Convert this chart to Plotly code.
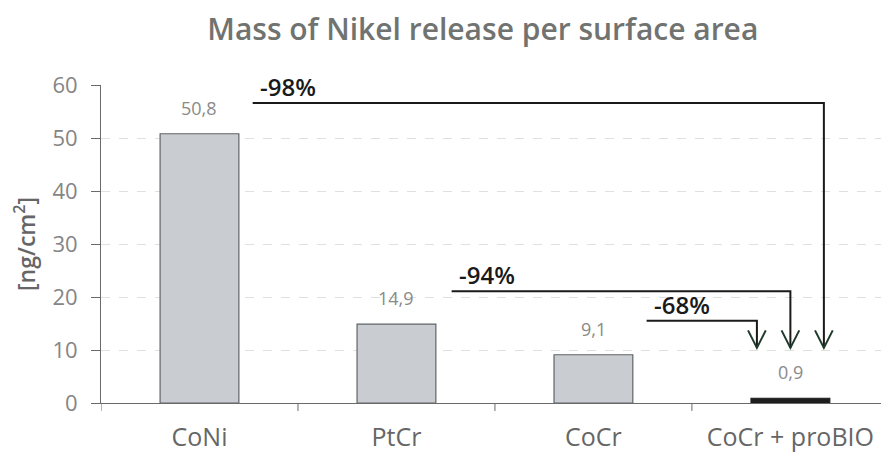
import plotly.graph_objects as go

# Nickel release per surface area for each alloy
categories = ["CoNi", "PtCr", "CoCr", "CoCr + proBIO"]
values = [50.8, 14.9, 9.1, 0.9]
value_labels = ["50,8", "14,9", "9,1", "0,9"]

# Reduction brackets: label, start x, bracket level, arrow x
reductions = [
    ("-98%", 0.27, 56.6, 3.17),
    ("-94%", 1.28, 21.1, 3.00),
    ("-68%", 2.27, 15.5, 2.83),
]
arrow_tip = 10.4

FONT = "Open Sans, sans-serif"
bar_fill = ["#c9ccd1", "#c9ccd1", "#c9ccd1", "#1e1e1e"]
bar_line = ["#5f6466", "#5f6466", "#5f6466", "#1e1e1e"]

fig = go.Figure()
fig.add_trace(go.Bar(
    x=list(range(len(categories))),
    y=values,
    width=0.4,
    marker=dict(color=bar_fill, line=dict(color=bar_line, width=1.2)),
    hoverinfo="skip",
))

shapes = []
annotations = []

# value labels above each bar
for i, (v, t) in enumerate(zip(values, value_labels)):
    annotations.append(dict(
        x=i, y=v, xref="x", yref="y", text=t, showarrow=False,
        xanchor="center", yanchor="middle", yshift=26,
        font=dict(family=FONT, size=18, color="#8a8a8a"),
    ))

for label, x0, level, x1 in reductions:
    # horizontal run then drop to the arrow tip
    shapes.append(dict(
        type="path", xref="x", yref="y",
        path=f"M {x0},{level} L {x1},{level} L {x1},{arrow_tip}",
        line=dict(color="#1a1a1a", width=2),
    ))
    # open arrowhead
    hw = 0.045
    hh = 3.3
    shapes.append(dict(
        type="path", xref="x", yref="y",
        path=f"M {x1-hw},{arrow_tip+hh} L {x1},{arrow_tip} L {x1+hw},{arrow_tip+hh}",
        line=dict(color="#1f3a2a", width=2),
    ))
    annotations.append(dict(
        x=x0 + 0.025, y=level, xref="x", yref="y",
        text=label, showarrow=False,
        xanchor="left", yanchor="bottom", yshift=-2,
        font=dict(family=FONT, size=24, weight=600, color="#1a1a1a"),
    ))

fig.update_layout(
    width=881, height=454,
    margin=dict(l=101, r=0, t=85, b=51),
    paper_bgcolor="white", plot_bgcolor="white",
    showlegend=False,
    title=dict(
        text="Mass of Nikel release per surface area",
        x=0.548, xanchor="center", y=0.934, yanchor="middle",
        font=dict(family=FONT, size=30, weight=600, color="#707370"),
    ),
    xaxis=dict(
        range=[-0.5, 3.46],
        tickmode="array",
        tickvals=list(range(len(categories))),
        ticktext=categories,
        showgrid=False,
        showline=True, linecolor="#6a6a6a", linewidth=1,
        ticks="", zeroline=False,
        automargin=False,
        ticklabelstandoff=12,
        tickfont=dict(family=FONT, size=25, color="#666666"),
    ),
    yaxis=dict(
        range=[0, 60],
        tickvals=[0, 10, 20, 30, 40, 50, 60],
        showgrid=True, gridcolor="#e0e0e0", griddash="dash", gridwidth=1,
        showline=True, linecolor="#6a6a6a", linewidth=1,
        ticks="outside", ticklen=9, tickcolor="#6a6a6a",
        zeroline=False,
        automargin=False,
        ticklabelstandoff=9,
        tickfont=dict(family=FONT, size=22, color="#858585"),
        title=dict(text="[ng/cm<sup>2</sup>]", standoff=10,
                   font=dict(family=FONT, size=23, weight=600, color="#666666")),
    ),
    shapes=shapes,
    annotations=annotations,
)

# category boundary ticks below the baseline
for b in [-0.5, 0.5, 1.5, 2.5]:
    fig.add_shape(type="line", xref="x", yref="paper", x0=b, x1=b, y0=0, y1=-0.025,
                  line=dict(color="#6a6a6a", width=1))

fig.write_html("out.html")
